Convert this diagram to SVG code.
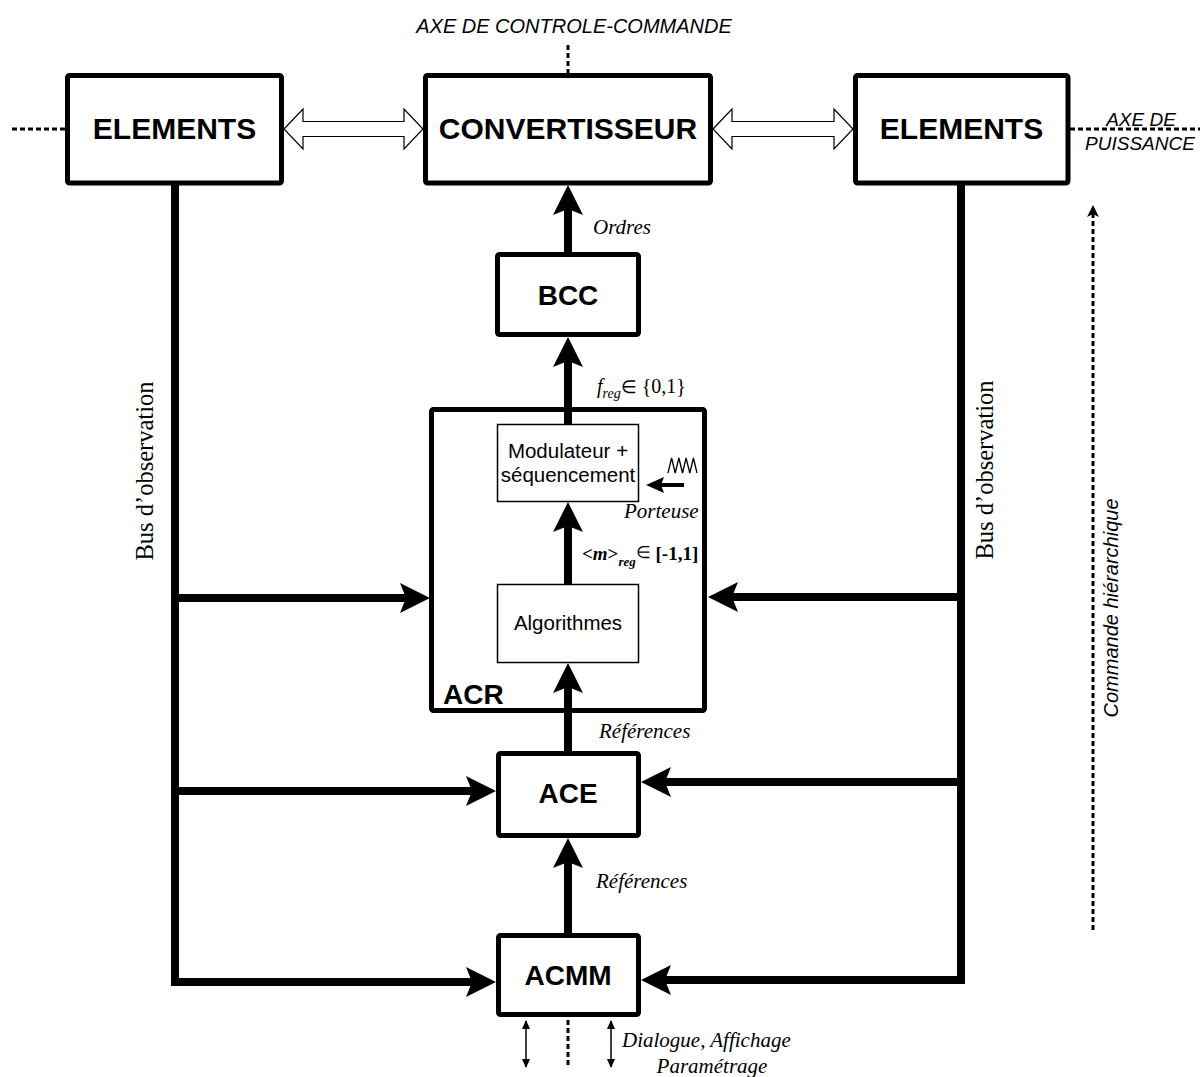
<svg xmlns="http://www.w3.org/2000/svg" width="1200" height="1077" viewBox="0 0 1200 1077">
<style>
.box{fill:#fff;stroke:#000;stroke-width:5;stroke-linejoin:round}
.thin{fill:#fff;stroke:#000;stroke-width:1.5}
.big{font-family:"Liberation Sans",Arial,sans-serif;font-weight:bold;font-size:30px;text-anchor:middle;fill:#000}
.mid{font-family:"Liberation Sans",Arial,sans-serif;font-size:20.5px;text-anchor:middle;fill:#000}
.lbl{font-family:"Liberation Serif","Times New Roman",serif;font-style:italic;font-size:21px;fill:#000}
.axe{font-family:"Liberation Sans",Arial,sans-serif;font-style:italic;font-size:19px;fill:#000}
.bus{font-family:"Liberation Serif","Times New Roman",serif;font-size:24.5px;text-anchor:middle;fill:#000}
.thick{fill:none;stroke:#000;stroke-width:8}
.dash{fill:none;stroke:#000;stroke-width:3;stroke-dasharray:5 3}
.hollow{fill:#fff;stroke:#000;stroke-width:1.2}
</style>
<defs>
<marker id="ah" viewBox="0 -15 30 30" refX="20" refY="0" markerWidth="30" markerHeight="30" markerUnits="userSpaceOnUse" orient="auto"><path d="M0,-15 L30,0 L0,15 L6,0 Z" fill="#000"/></marker>
<marker id="ahs" viewBox="0 -8 18 16" refX="12" refY="0" markerWidth="18" markerHeight="16" markerUnits="userSpaceOnUse" orient="auto"><path d="M0,-8 L18,0 L0,8 L3,0 Z" fill="#000"/></marker>
<marker id="aht" viewBox="0 -4 9 8" refX="8" refY="0" markerWidth="9" markerHeight="8" markerUnits="userSpaceOnUse" orient="auto-start-reverse"><path d="M0,-4 L9,0 L0,4 Z" fill="#000"/></marker>
<marker id="ahd" viewBox="0 -6 12 12" refX="8" refY="0" markerWidth="12" markerHeight="12" markerUnits="userSpaceOnUse" orient="auto"><path d="M0,-6 L12,0 L0,6 L3,0 Z" fill="#000"/></marker>
</defs>

<g id="elements-left">
  <rect class="box" x="67.5" y="75.5" width="214" height="107.5" rx="2"/>
  <text class="big" x="174.5" y="139">ELEMENTS</text>
</g>
<g id="convertisseur">
  <rect class="box" x="425.5" y="75.5" width="285" height="107.5" rx="2"/>
  <text class="big" x="568" y="139">CONVERTISSEUR</text>
</g>
<g id="elements-right">
  <rect class="box" x="855.5" y="75.5" width="212.5" height="107.5" rx="2"/>
  <text class="big" x="961.5" y="139">ELEMENTS</text>
</g>
<g id="bcc">
  <rect class="box" x="497.5" y="254.5" width="141" height="80" rx="2"/>
  <text class="big" x="568" y="305" style="font-size:28px">BCC</text>
</g>
<g id="acr">
  <rect class="box" x="431.5" y="409.5" width="273" height="301" rx="2"/>
  <text class="big" x="443" y="704" style="text-anchor:start;font-size:28px">ACR</text>
</g>
<g id="modulateur">
  <rect class="thin" x="497.5" y="424.5" width="141" height="77"/>
  <text class="mid" x="568" y="458">Modulateur +</text>
  <text class="mid" x="568" y="482">séquencement</text>
</g>
<g id="algorithmes">
  <rect class="thin" x="497.5" y="584.5" width="141" height="78"/>
  <text class="mid" x="568" y="630">Algorithmes</text>
</g>
<g id="ace">
  <rect class="box" x="498.5" y="753.5" width="140" height="82" rx="2"/>
  <text class="big" x="568" y="803" style="font-size:28px">ACE</text>
</g>
<g id="acmm">
  <rect class="box" x="498.5" y="935.5" width="140" height="79" rx="2"/>
  <text class="big" x="568" y="985" style="font-size:28px">ACMM</text>
</g>

<g id="connectors">
  <path class="dash" d="M12,129 H65"/>
  <path class="dash" d="M1070,129 H1200"/>
  <path class="dash" d="M568,45 V73"/>
  <path class="dash" d="M568,1020 V1068"/>
  <path class="dash" d="M1093,930 V209" marker-end="url(#ahd)"/>
  <polygon class="hollow" points="284,129 303,109 303,121.5 404,121.5 404,109 423,129 404,149 404,136.5 303,136.5 303,149"/>
  <polygon class="hollow" points="713,129 732,109 732,121.5 834,121.5 834,109 853,129 834,149 834,136.5 732,136.5 732,149"/>
  <path class="thick" d="M568,252 V195" marker-end="url(#ah)"/>
  <path class="thick" d="M568,424 V347" marker-end="url(#ah)"/>
  <path class="thick" d="M568,584 V512" marker-end="url(#ah)"/>
  <path class="thick" d="M568,753 V673" marker-end="url(#ah)"/>
  <path class="thick" d="M568,935 V848" marker-end="url(#ah)"/>
  <path class="thick" d="M175,185 V986"/>
  <path class="thick" d="M171,598 H420" marker-end="url(#ah)"/>
  <path class="thick" d="M171,791 H486" marker-end="url(#ah)"/>
  <path class="thick" d="M171,982 H486" marker-end="url(#ah)"/>
  <path class="thick" d="M961,185 V984"/>
  <path class="thick" d="M965,597 H718" marker-end="url(#ah)"/>
  <path class="thick" d="M965,782 H651" marker-end="url(#ah)"/>
  <path class="thick" d="M965,980 H651" marker-end="url(#ah)"/>
  <path fill="none" stroke="#000" stroke-width="4" d="M684,485 H652" marker-end="url(#ahs)"/>
  <polyline fill="none" stroke="#000" stroke-width="1.3" points="668,473 671.6,458 675.2,473 678.9,458 682.5,473 686.1,458 689.8,473 693.4,458 697,473"/>
  <path fill="none" stroke="#000" stroke-width="1.5" d="M526,1021 V1067" marker-start="url(#aht)" marker-end="url(#aht)"/>
  <path fill="none" stroke="#000" stroke-width="1.5" d="M611,1021 V1067" marker-start="url(#aht)" marker-end="url(#aht)"/>
</g>

<g id="labels">
  <text class="axe" x="574" y="33" text-anchor="middle" style="font-size:20px">AXE DE CONTROLE-COMMANDE</text>
  <text class="axe" x="1141" y="126" text-anchor="middle">AXE DE</text>
  <text class="axe" x="1140" y="150" text-anchor="middle">PUISSANCE</text>
  <text class="lbl" x="593" y="234">Ordres</text>
  <text x="597" y="393" font-family="Liberation Serif, Times New Roman, serif" font-size="20"><tspan font-style="italic">f</tspan><tspan font-style="italic" font-size="14" dy="5">reg</tspan><tspan dy="-5" font-family="Liberation Sans, Arial, sans-serif" font-size="18">∈</tspan><tspan> {0,1}</tspan></text>
  <text x="582" y="560" font-family="Liberation Serif, Times New Roman, serif" font-size="19" font-weight="bold">&lt;<tspan font-style="italic">m</tspan>&gt;<tspan font-style="italic" font-size="13" dy="6">reg</tspan><tspan dy="-8" font-family="Liberation Sans, Arial, sans-serif" font-size="17" font-weight="normal">∈</tspan><tspan dy="2"> [-1,1]</tspan></text>
  <text class="lbl" x="624" y="518">Porteuse</text>
  <text class="lbl" x="599" y="738">Références</text>
  <text class="lbl" x="596" y="888">Références</text>
  <text class="lbl" x="622" y="1047">Dialogue, Affichage</text>
  <text class="lbl" x="712" y="1073" text-anchor="middle">Paramétrage</text>
  <text class="bus" transform="translate(153,471) rotate(-90)">Bus d’observation</text>
  <text class="bus" transform="translate(993,470) rotate(-90)">Bus d’observation</text>
  <text class="axe" transform="translate(1118,608) rotate(-90)" text-anchor="middle" style="font-size:20px">Commande hiérarchique</text>
</g>
</svg>
